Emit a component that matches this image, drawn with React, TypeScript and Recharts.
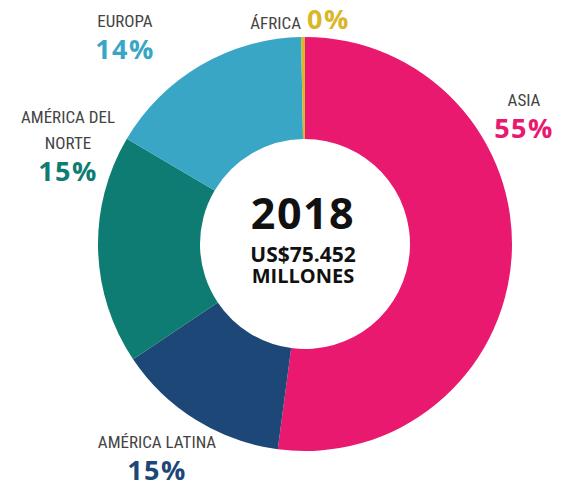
import React from 'react';
import { PieChart, Pie, Cell } from 'recharts';

// Regions in drawing order (clockwise from 12 o'clock)
const regions = ['ASIA', 'AMÉRICA LATINA', 'AMÉRICA DEL NORTE', 'EUROPA', 'ÁFRICA'];
// slice sizes as drawn in the picture
const shares = [52.1, 13.5, 17.9, 16.2, 0.3];
// percentages printed next to each slice
const shareLabels = ['55%', '15%', '15%', '14%', '0%'];
const colors = ['#E8196E', '#1D4777', '#0F7C74', '#3AA6C6', '#D9B62A'];

const year = '2018';
const totalLine1 = 'US$75.452';
const totalLine2 = 'MILLONES';

const data = regions.map((name, i) => ({ name, value: shares[i] }));

const W = 567;
const H = 487;

const nameFont = "'Liberation Sans Narrow', 'Roboto Condensed', 'Arial Narrow', Roboto, sans-serif";
const pctFont = "'Open Sans', 'Noto Sans', sans-serif";

// label placement (centre x, top y of the name line), by region
const labelPos: Record<string, { x: number; y: number; lines: string[]; inline?: boolean }> = {
  ASIA: { x: 524, y: 90, lines: ['ASIA'] },
  'AMÉRICA LATINA': { x: 157, y: 432, lines: ['AMÉRICA LATINA'] },
  'AMÉRICA DEL NORTE': { x: 68, y: 107, lines: ['AMÉRICA DEL', 'NORTE'] },
  EUROPA: { x: 125, y: 11, lines: ['EUROPA'] },
  'ÁFRICA': { x: 300, y: 5, lines: ['ÁFRICA'], inline: true },
};

const nameStyle: React.CSSProperties = {
  fontFamily: nameFont,
  fontSize: 17,
  color: '#444',
  lineHeight: '20px',
  whiteSpace: 'nowrap',
};

const RegionLabel = ({ i }: { i: number }) => {
  const pos = labelPos[regions[i]];
  const pctStyle: React.CSSProperties = {
    fontFamily: pctFont,
    fontWeight: 700,
    fontSize: 27,
    letterSpacing: 1.5,
    color: colors[i],
    lineHeight: '28px',
    whiteSpace: 'nowrap',
  };
  if (pos.inline) {
    return (
      <div
        style={{
          position: 'absolute',
          left: pos.x,
          top: pos.y,
          transform: 'translateX(-50%)',
          display: 'flex',
          alignItems: 'baseline',
          gap: 6,
        }}
      >
        <span style={nameStyle}>{pos.lines[0]}</span>
        <span style={pctStyle}>{shareLabels[i]}</span>
      </div>
    );
  }
  return (
    <div
      style={{
        position: 'absolute',
        left: pos.x,
        top: pos.y,
        transform: 'translateX(-50%)',
        textAlign: 'center',
      }}
    >
      {pos.lines.map((l, k) => (
        <div key={l} style={{ ...nameStyle, marginTop: k > 0 ? 6 : 0 }}>
          {l}
        </div>
      ))}
      <div style={{ ...pctStyle, marginTop: 4 }}>{shareLabels[i]}</div>
    </div>
  );
};

export default function App() {
  return (
    <div style={{ position: 'relative', width: W, height: H, background: '#fff' }}>
      <style>{`body{margin:0}`}</style>
      <PieChart width={W} height={H} margin={{ top: 0, right: 0, bottom: 0, left: 0 }}>
        <Pie
          data={data}
          dataKey="value"
          nameKey="name"
          cx={305}
          cy={244}
          innerRadius={105}
          outerRadius={207}
          startAngle={90}
          endAngle={-270}
          stroke="none"
          isAnimationActive={false}
        >
          {data.map((d, i) => (
            <Cell key={d.name} fill={colors[i]} />
          ))}
        </Pie>
      </PieChart>

      {regions.map((r, i) => (
        <RegionLabel key={r} i={i} />
      ))}

      <div
        style={{
          position: 'absolute',
          left: 303,
          top: 191,
          transform: 'translateX(-50%)',
          textAlign: 'center',
          fontFamily: "'Open Sans', 'Noto Sans', sans-serif",
          fontWeight: 700,
          color: '#111',
          whiteSpace: 'nowrap',
        }}
      >
        <div style={{ fontSize: 43, lineHeight: '44px', letterSpacing: 1.5 }}>{year}</div>
        <div style={{ fontSize: 21, lineHeight: '21px', marginTop: 9 }}>{totalLine1}</div>
        <div style={{ fontSize: 20, lineHeight: '20px', marginTop: 1 }}>{totalLine2}</div>
      </div>
    </div>
  );
}
